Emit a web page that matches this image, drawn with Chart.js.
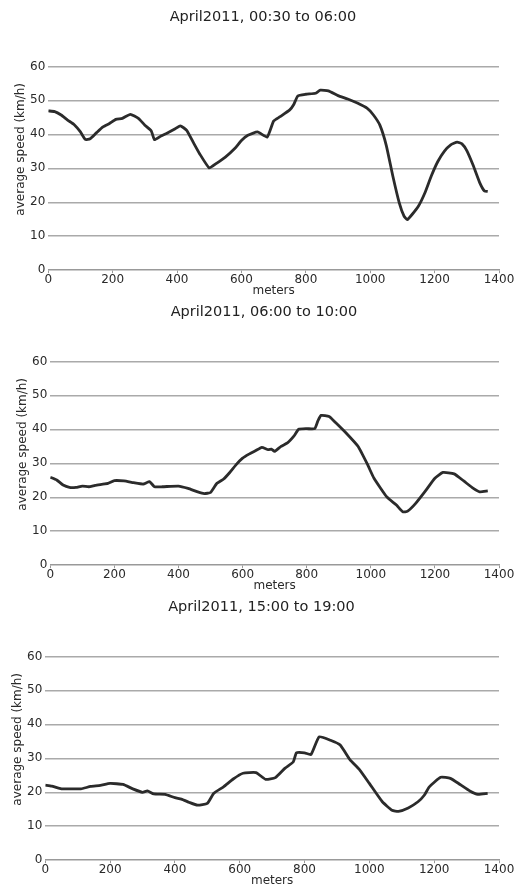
<!DOCTYPE html>
<html>
<head>
<meta charset="utf-8">
<script src="https://cdn.jsdelivr.net/npm/chart.js@4.4.1/dist/chart.umd.min.js"></script>
<style>
  html, body { margin: 0; padding: 0; background: #fff; overflow: hidden; }
  body { width: 527px; height: 885px; position: relative; }
  .panel { position: absolute; left: 0; width: 527px; height: 300px; }
</style>
</head>
<body>
<div class="panel" style="top:0px"><canvas id="c1"></canvas></div>
<div class="panel" style="top:295px"><canvas id="c2"></canvas></div>
<div class="panel" style="top:590px"><canvas id="c3"></canvas></div>
<script>
// --- data (meters, km/h) ---
const titles = ['April2011, 00:30 to 06:00', 'April2011, 06:00 to 10:00', 'April2011, 15:00 to 19:00'];
const yLabel = 'average speed (km/h)';
const xTickStep = 200;
const yTickStep = 10;

const night_m = [0, 20, 40, 60, 80, 100, 115, 130, 150, 170, 190, 210, 230, 255, 280, 300, 320, 330, 350, 370, 390, 410, 430, 450, 470, 500, 520, 550, 580, 600, 620, 650, 680, 700, 720, 750, 762, 775, 800, 830, 845, 870, 900, 930, 960, 990, 1010, 1030, 1050, 1070, 1090, 1105, 1115, 1130, 1150, 1170, 1190, 1210, 1230, 1250, 1270, 1285, 1300, 1320, 1340, 1355, 1365];
const night_v = [46.9, 46.7, 45.7, 44.2, 42.9, 40.7, 38.5, 38.7, 40.5, 42.2, 43.2, 44.4, 44.7, 45.9, 44.7, 42.7, 41.0, 38.4, 39.5, 40.4, 41.4, 42.5, 41.2, 37.7, 34.3, 30.1, 31.3, 33.3, 35.9, 38.2, 39.7, 40.7, 39.2, 43.9, 45.2, 47.2, 48.7, 51.3, 51.8, 52.1, 53.0, 52.8, 51.4, 50.4, 49.2, 47.7, 45.7, 42.7, 36.7, 27.8, 19.9, 15.9, 14.9, 16.4, 18.9, 22.8, 27.8, 32.0, 35.0, 36.9, 37.7, 37.2, 35.2, 30.8, 25.8, 23.3, 23.2];

const morning_m = [0, 20, 40, 60, 80, 100, 120, 140, 160, 180, 200, 230, 260, 290, 310, 325, 350, 400, 430, 460, 480, 500, 520, 540, 560, 580, 600, 620, 640, 660, 680, 690, 700, 720, 740, 760, 775, 800, 825, 835, 845, 870, 890, 920, 960, 990, 1010, 1050, 1080, 1100, 1115, 1140, 1170, 1200, 1225, 1260, 1290, 1320, 1340, 1365];
const morning_v = [25.9, 25.1, 23.6, 22.9, 22.9, 23.3, 23.1, 23.5, 23.8, 24.1, 24.9, 24.8, 24.3, 23.9, 24.6, 23.1, 23.1, 23.3, 22.6, 21.6, 21.1, 21.4, 24.1, 25.3, 27.3, 29.6, 31.5, 32.7, 33.7, 34.7, 34.0, 34.2, 33.5, 35.0, 36.0, 38.0, 40.0, 40.2, 40.2, 42.5, 44.1, 43.8, 42.0, 39.2, 35.0, 29.6, 25.6, 20.1, 17.7, 15.7, 15.9, 18.2, 21.8, 25.6, 27.3, 26.9, 24.8, 22.6, 21.6, 21.9];

const evening_m = [0, 20, 50, 80, 110, 140, 170, 200, 240, 270, 300, 315, 335, 370, 400, 420, 445, 470, 500, 520, 550, 580, 610, 650, 680, 710, 740, 765, 775, 800, 820, 845, 880, 910, 940, 970, 1000, 1040, 1070, 1090, 1120, 1150, 1170, 1185, 1220, 1250, 1280, 1310, 1335, 1365];
const evening_v = [22.1, 21.8, 21.0, 21.0, 21.0, 21.7, 22.0, 22.6, 22.3, 21.0, 20.0, 20.4, 19.5, 19.4, 18.4, 18.0, 17.0, 16.2, 16.7, 19.7, 21.6, 23.9, 25.6, 25.8, 23.8, 24.3, 27.1, 28.9, 31.6, 31.6, 31.1, 36.3, 35.3, 33.9, 29.6, 26.6, 22.6, 17.2, 14.7, 14.4, 15.4, 17.2, 19.2, 21.6, 24.4, 24.1, 22.3, 20.4, 19.4, 19.7];

const series = [[night_m, night_v], [morning_m, morning_v], [evening_m, evening_v]];
const leftPad = [27, 29, 24];

const FONT = 'DejaVu Sans';
const TXT = '#2a2a2a';

// y label sits a bit above the middle of the axis in the original, so draw it ourselves
const yLabelPlugin = {
    id: 'yLabel',
    afterDraw(chart) {
        const { ctx, chartArea } = chart;
        ctx.save();
        ctx.translate(chartArea.left - 27, (chartArea.top + chartArea.bottom) / 2 - 19);
        ctx.rotate(-Math.PI / 2);
        ctx.font = '12px "' + FONT + '"';
        ctx.fillStyle = TXT;
        ctx.textAlign = 'center';
        ctx.textBaseline = 'middle';
        ctx.fillText(yLabel, 0, 0);
        ctx.restore();
    }
};

function makePanel(id, idx) {
    const [xs, ys] = series[idx];
    const pts = xs.map((x, i) => ({ x: x, y: ys[i] }));
    const ctx = document.getElementById(id).getContext('2d');
    return new Chart(ctx, {
        type: 'line',
        data: {
            datasets: [{
                data: pts,
                borderColor: '#2b2b2b',
                borderWidth: 2.8,
                pointRadius: 0,
                tension: 0.15,
                fill: false
            }]
        },
        options: {
            responsive: false,
            animation: false,
            layout: { padding: { left: leftPad[idx], right: 28, top: 0, bottom: 2 } },
            plugins: {
                legend: { display: false },
                tooltip: { enabled: false },
                title: {
                    display: true,
                    text: titles[idx],
                    color: '#222',
                    font: { family: FONT, size: 14.5, weight: 'normal' },
                    padding: { top: 9, bottom: 40 }
                }
            },
            scales: {
                x: {
                    type: 'linear',
                    min: 0, max: 1400,
                    grid: { display: true, drawOnChartArea: false, color: '#999', tickLength: 3 },
                    border: { display: true, color: '#999', width: 1.5 },
                    ticks: {
                        stepSize: xTickStep,
                        color: TXT, font: { family: FONT, size: 12 }, padding: -1, maxRotation: 0,
                        callback: (v) => String(v)
                    },
                    title: { display: true, text: 'meters', color: TXT, font: { family: FONT, size: 12 }, padding: { top: -2, bottom: 0 } }
                },
                y: {
                    min: 0, max: 60,
                    grid: {
                        color: (c) => (c.index === 0 ? 'rgba(0,0,0,0)' : '#aaa'),
                        lineWidth: 1.5,
                        drawTicks: false
                    },
                    border: { display: false },
                    ticks: {
                        stepSize: yTickStep,
                        color: TXT, font: { family: FONT, size: 12 }, padding: 3,
                        callback: (v) => String(v)
                    }
                }
            }
        },
        plugins: [yLabelPlugin]
    });
}

['c1', 'c2', 'c3'].forEach((id, i) => {
    const cv = document.getElementById(id);
    cv.width = 527;
    cv.height = 300;
    makePanel(id, i);
});
</script>
</body>
</html>
